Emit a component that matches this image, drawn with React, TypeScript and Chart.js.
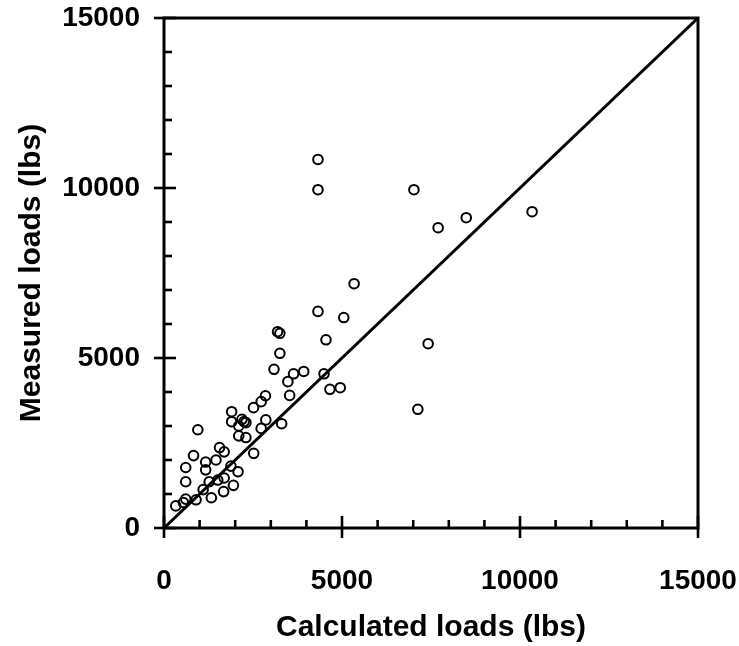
import React, { useEffect, useRef } from "react";
import { Chart, registerables } from "chart.js";

Chart.register(...registerables);

const calculatedLoads = [
  330, 545, 610, 900, 610, 610, 830, 950, 1170, 1170,
  1100, 1270, 1330, 1460, 1560, 1690, 1510, 1690, 1675, 1880,
  1950, 2080, 1900, 1900, 2100, 2190, 2250, 2300, 2100, 2300,
  2520, 2515, 2730, 2730, 2850, 2860, 3090, 3190, 3255, 3255,
  3305, 3480, 3640, 3530, 3925, 4325, 4325, 4325, 4550, 5050,
  4495, 4660, 4950, 5340, 7020, 7700, 8490, 10340, 7420, 7130,
];
const measuredLoads = [
  650, 750, 850, 830, 1360, 1780, 2130, 2890, 1940, 1710,
  1130, 1360, 890, 2000, 2365, 2240, 1410, 1470, 1070, 1820,
  1255, 1656, 3420, 3127, 3000, 3197, 3130, 3098, 2710, 2660,
  2196, 3540, 2930, 3716, 3890, 3180, 4667, 5774, 5726, 5138,
  3068, 4304, 4535, 3900, 4605, 10840, 9950, 6370, 5535, 6190,
  4535, 4079, 4127, 7185, 9950, 8832, 9127, 9303, 5421, 3491,
];
const equalityLine = [0, 15000];
const axisMin = 0;
const axisMax = 15000;
const majorStep = 5000;
const minorStep = 1000;

const FONT = "'Liberation Sans', Arial, sans-serif";

const framePlugin = {
  id: "frameTicks",
  afterDraw(chart: any) {
    const { ctx, chartArea } = chart;
    const xs = chart.scales.x;
    const ys = chart.scales.y;
    const { left, right, top, bottom } = chartArea;
    ctx.save();
    ctx.strokeStyle = "#000";
    ctx.lineWidth = 3;
    ctx.strokeRect(left, top, right - left, bottom - top);
    ctx.lineWidth = 2.6;
    ctx.lineCap = "butt";
    for (let v = axisMin; v <= axisMax; v += minorStep) {
      const major = v % majorStep === 0;
      const py = ys.getPixelForValue(v);
      ctx.beginPath();
      ctx.moveTo(major ? left - 10 : left, py);
      ctx.lineTo(major ? left + 12 : left + 8, py);
      ctx.stroke();
      const px = xs.getPixelForValue(v);
      ctx.beginPath();
      ctx.moveTo(px, major ? bottom + 10 : bottom);
      ctx.lineTo(px, major ? bottom - 12 : bottom - 8);
      ctx.stroke();
    }
    ctx.restore();
  },
};

export default function App() {
  const ref = useRef<HTMLCanvasElement>(null);
  useEffect(() => {
    if (!ref.current) return;
    const points = calculatedLoads.map((c, i) => ({ x: c, y: measuredLoads[i] }));
    const chart = new Chart(ref.current, {
      type: "scatter",
      data: {
        datasets: [
          {
            type: "line",
            data: equalityLine.map((v) => ({ x: v, y: v })),
            borderColor: "#000",
            borderWidth: 3,
            pointRadius: 0,
            fill: false,
          } as any,
          {
            data: points,
            pointStyle: "circle",
            pointRadius: 4.8,
            borderColor: "#000",
            borderWidth: 2,
            backgroundColor: "rgba(0,0,0,0)",
          },
        ],
      },
      options: {
        responsive: false,
        animation: false,
        devicePixelRatio: 1,
        layout: { padding: { top: 18, right: 41, left: 0, bottom: 0 } },
        plugins: { legend: { display: false }, tooltip: { enabled: false } },
        scales: {
          x: {
            type: "linear",
            min: axisMin,
            max: axisMax,
            grid: { display: false, drawTicks: false, tickLength: 0 },
            border: { display: false },
            ticks: {
              stepSize: majorStep,
              maxRotation: 0,
              autoSkip: false,
              padding: 36,
              color: "#000",
              font: { family: FONT, size: 28, weight: "bold" },
              callback: (v: any) => String(v),
            },
            title: {
              display: true,
              text: "Calculated loads (lbs)",
              color: "#000",
              font: { family: FONT, size: 30, weight: "bold" },
              padding: { top: 0, bottom: 0 },
            },
            afterFit: (s: any) => {
              s.height = 118;
              s.paddingLeft = 0;
              s.paddingRight = 0;
            },
          },
          y: {
            type: "linear",
            min: axisMin,
            max: axisMax,
            grid: { display: false, drawTicks: false, tickLength: 0 },
            border: { display: false },
            ticks: {
              stepSize: majorStep,
              autoSkip: false,
              padding: 24,
              color: "#000",
              font: { family: FONT, size: 28, weight: "bold" },
              callback: (v: any) => String(v),
            },
            title: {
              display: true,
              text: "Measured loads (lbs)",
              color: "#000",
              font: { family: FONT, size: 30, weight: "bold" },
              padding: { top: 14, bottom: 0 },
            },
            afterFit: (s: any) => {
              s.width = 164;
              s.paddingTop = 0;
              s.paddingBottom = 0;
            },
          },
        },
      },
      plugins: [framePlugin],
    });
    return () => chart.destroy();
  }, []);
  return (
    <div style={{ position: "fixed", left: 0, top: 0, width: 739, height: 646, background: "#fff" }}>
      <canvas ref={ref} width={739} height={646} style={{ display: "block" }} />
    </div>
  );
}
